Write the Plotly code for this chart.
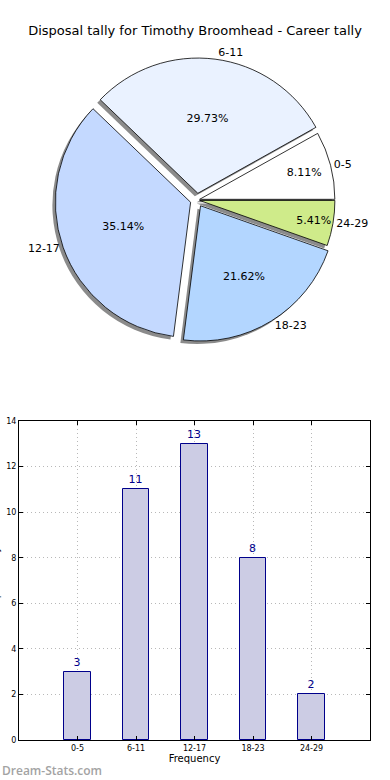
import plotly.graph_objects as go

categories = ["0-5", "6-11", "12-17", "18-23", "24-29"]
counts = [3, 11, 13, 8, 2]
slice_colors = ["#FFFFFF", "#EAF2FF", "#C4D9FF", "#B3D6FF", "#CFEB8A"]
pulls = [0.02, 0.05, 0.05, 0.05, 0.02]
y_ticks = [0, 2, 4, 6, 8, 10, 12, 14]

W, H = 390, 780
fig = go.Figure()

def px_dom(x0, x1, y0, y1):
    return dict(x=[x0 / W, x1 / W], y=[1 - y1 / H, 1 - y0 / H])

# first slice starts at 3 o'clock and runs counterclockwise
rot = 90 - 360 * counts[0] / sum(counts)

pie_box = (55, 339, 58, 342)
sh = 3
common = dict(labels=categories, values=counts, sort=False, direction="counterclockwise",
              rotation=rot, pull=pulls, showlegend=False)
# shadow
fig.add_trace(go.Pie(
    **common, textinfo="none", hoverinfo="skip",
    marker=dict(colors=["rgba(110,110,110,0.8)"] * 5, line=dict(width=0)),
    domain=px_dom(pie_box[0] - sh, pie_box[1] - sh, pie_box[2] + sh, pie_box[3] + sh),
))
# main pie with percent
fig.add_trace(go.Pie(
    **common, texttemplate="%{percent:.2%}", textposition="inside",
    insidetextorientation="horizontal",
    textfont=dict(size=11, color="black", family="DejaVu Sans"),
    marker=dict(colors=slice_colors, line=dict(color="black", width=0.8)),
    domain=px_dom(*pie_box),
))
# outside labels
fig.add_trace(go.Pie(
    **common, textinfo="label", textposition="outside",
    textfont=dict(size=11, color="black", family="DejaVu Sans"),
    marker=dict(colors=["rgba(0,0,0,0)"] * 5, line=dict(width=0)),
    domain=px_dom(*pie_box), hoverinfo="skip",
))

fig.add_trace(go.Bar(
    x=categories, y=counts, width=0.45,
    marker=dict(color="#CCCCE4", line=dict(color="#00008B", width=1)),
    text=counts, textposition="outside", cliponaxis=False,
    textfont=dict(size=11, color="#00008B", family="DejaVu Sans"),
    showlegend=False,
))

fig.update_layout(
    width=W, height=H, margin=dict(l=0, r=0, t=0, b=0),
    paper_bgcolor="white", plot_bgcolor="white",
    font=dict(family="DejaVu Sans", color="black"),
    title=dict(text="Disposal tally for Timothy Broomhead - Career tally",
               x=0.5, xanchor="center", y=1 - 30 / H, yanchor="middle",
               font=dict(size=13, color="black")),
    bargap=0,
    xaxis=dict(domain=[19 / W, 370 / W], range=[-1, 5], type="category", automargin=False,
               showline=True, linecolor="black", linewidth=1, mirror="allticks",
               ticks="inside", ticklen=4, tickcolor="black",
               showgrid=True, gridcolor="#B8B8B8", griddash="1px,3px", gridwidth=1,
               tickfont=dict(size=8), title=dict(text="Frequency", font=dict(size=10), standoff=2)),
    yaxis=dict(domain=[1 - 740 / H, 1 - 421 / H], range=[0, 14], tickvals=y_ticks, automargin=False,
               showline=True, linecolor="black", linewidth=1, mirror="allticks",
               ticks="inside", ticklen=4, tickcolor="black",
               showgrid=True, gridcolor="#B8B8B8", griddash="1px,3px", gridwidth=1,
               zeroline=False, tickfont=dict(size=8)),
    annotations=[
        dict(text="Dream-Stats.com", x=0, y=1 - 770 / H, xref="paper", yref="paper",
             xanchor="left", yanchor="middle", showarrow=False,
             font=dict(size=12, color="#A3A3A3", family="Open Sans", weight=600)),
        dict(text="Disposal Tally", textangle=-90, x=-5 / W, y=1 - 580 / H, xref="paper", yref="paper",
             xanchor="center", yanchor="middle", showarrow=False,
             font=dict(size=10, color="black", family="DejaVu Sans")),
    ],
)

fig.write_html("out.html", post_script="document.body.style.margin='0';",
               config={"displayModeBar": False})
